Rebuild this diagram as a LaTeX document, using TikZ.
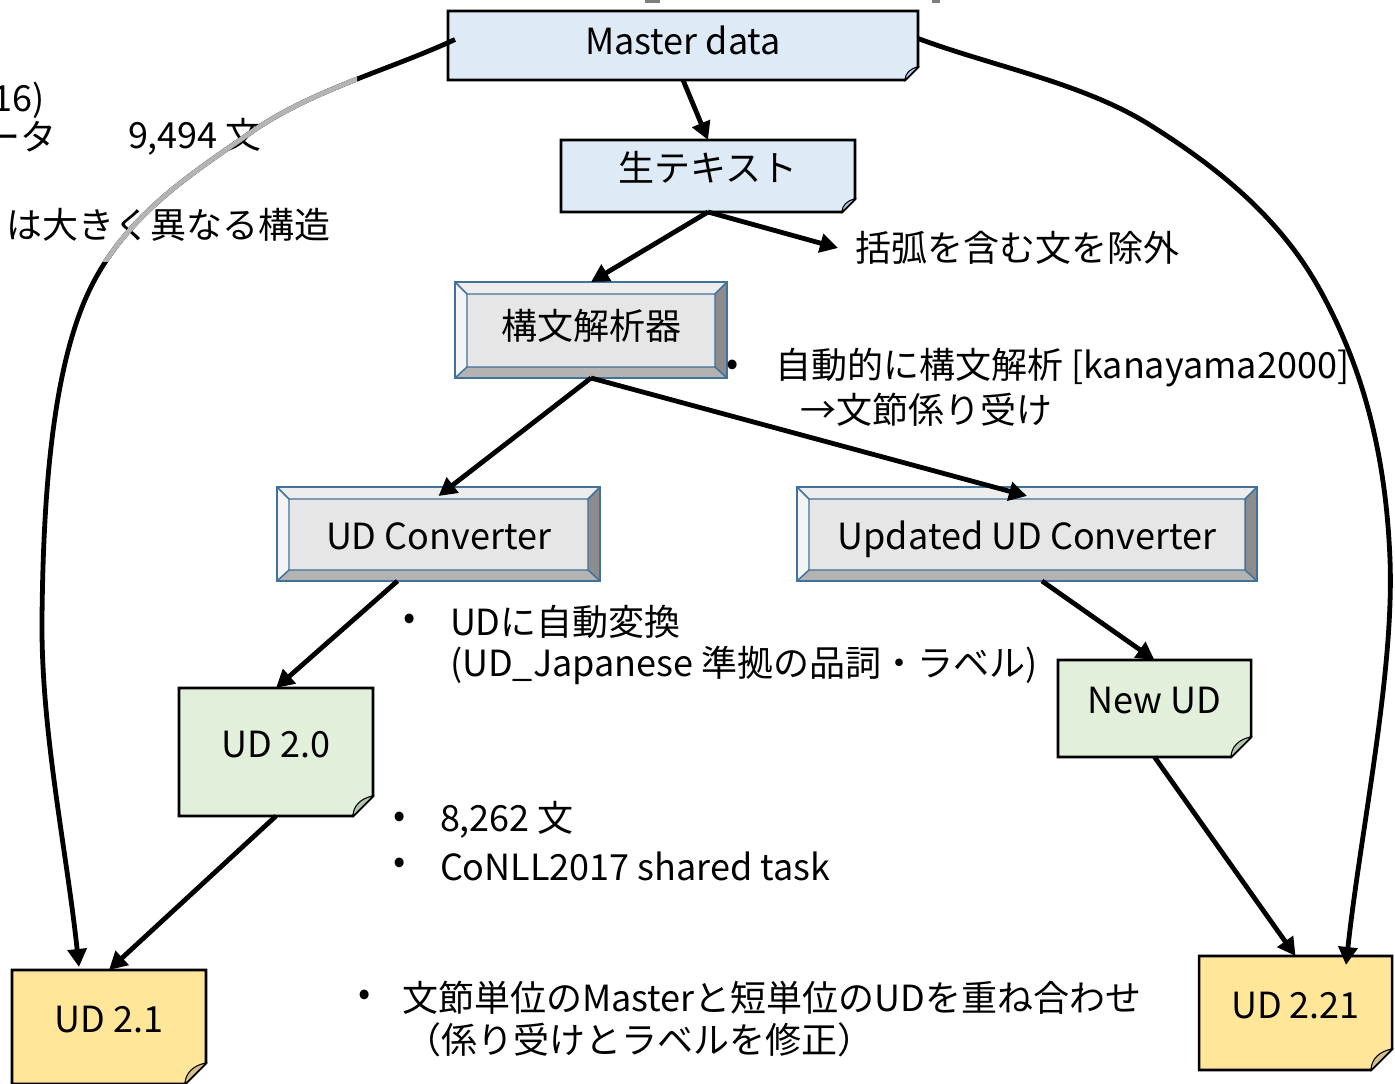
\documentclass[tikz,border=0pt]{standalone}
\usepackage{fontspec}
\setmainfont{Noto Sans CJK JP}
\usetikzlibrary{arrows.meta,calc,backgrounds}
\definecolor{noteblue}{HTML}{DEEBF7}
\definecolor{notegreen}{HTML}{E2EFDA}
\definecolor{noteyellow}{HTML}{FFE699}
\definecolor{foldblue}{HTML}{B4C7E7}
\definecolor{foldgreen}{HTML}{B5C4AC}
\definecolor{foldyellow}{HTML}{D6C08A}
\definecolor{bevblue}{HTML}{41719C}
\definecolor{bevtop}{HTML}{EDEDED}
\definecolor{bevleft}{HTML}{F4F4F4}
\definecolor{bevright}{HTML}{8C8C8C}
\definecolor{bevbottom}{HTML}{B3B3B3}
\definecolor{bevface}{HTML}{E6E6E6}
\definecolor{curvegrey}{HTML}{B4B4B4}
\definecolor{markgrey}{HTML}{7F7F7F}
\newcommand\notebg[4]{%
  \filldraw[fill=#2,draw=black,line width=1.9pt,line join=miter]
    (#1.north west) -- (#1.north east) -- ($(#1.south east)+(0,-#4)$)
    -- ($(#1.south east)+(-#4,0)$) -- (#1.south west) -- cycle;
  \filldraw[fill=#3,draw=black,line width=0.8pt]
    ($(#1.south east)+(0,-#4)$) .. controls ($(#1.south east)+(-0.6*#4,-0.9*#4)$)
    and ($(#1.south east)+(-#4,-0.5*#4)$) .. ($(#1.south east)+(-#4,0)$) -- cycle;}
\tikzset{
  every node/.style={font=\fontsize{27}{33}\selectfont, inner sep=0pt, outer sep=0pt},
  sz/.style 2 args={minimum width=#1*0.75pt, minimum height=#2*0.75pt},
  notetext/.style={text height=20pt, text depth=12pt},
  uptext/.style={text height=20pt, text depth=6pt},
  lowtext/.style={text height=23pt, text depth=0pt},
  conn/.style={line width=3.6pt, -{Triangle[length=13.5pt,width=14pt]}},
  bevel/.style={draw=bevblue, line width=1.1pt, fill=bevface,
    path picture={
      \path (path picture bounding box.north west) coordinate (pnw)
            (path picture bounding box.north east) coordinate (pne)
            (path picture bounding box.south west) coordinate (psw)
            (path picture bounding box.south east) coordinate (pse);
      \path ($(pnw)+(12,12)$) coordinate (qnw) ($(pne)+(-12,12)$) coordinate (qne)
            ($(psw)+(12,-11)$) coordinate (qsw) ($(pse)+(-12,-11)$) coordinate (qse);
      \fill[bevtop] (pnw)--(pne)--(qne)--(qnw)--cycle;
      \fill[bevleft] (pnw)--(qnw)--(qsw)--(psw)--cycle;
      \fill[bevright] (pne)--(pse)--(qse)--(qne)--cycle;
      \fill[bevbottom] (psw)--(pse)--(qse)--(qsw)--cycle;
      \draw[bevblue,line width=1.1pt] (qnw) rectangle (qse)
        (pnw)--(qnw) (pne)--(qne) (psw)--(qsw) (pse)--(qse);
    }},
  lbl/.style={anchor=west}
}
\begin{document}
\begin{tikzpicture}[x=0.75pt,y=-0.75pt]
\useasboundingbox (0,0) rectangle (1395,1084);
% boxes
\node[sz={470}{69}, uptext] (md) at (683,45.5) {Master data};
\node[sz={294}{72}, notetext] (raw) at (708,176) {生テキスト};
\node[bevel, sz={272}{96}, uptext] (parser) at (591,330) {構文解析器};
\node[bevel, sz={323}{94}, lowtext] (udc) at (438.5,534) {UD Converter};
\node[bevel, sz={460}{94}, lowtext] (uudc) at (1027,534) {Updated UD Converter};
\node[notetext, sz={194}{128}] (ud20) at (276,752) {UD 2.0};
\node[notetext, sz={193}{97}] (newud) at (1154.5,708.5) {New UD};
\node[notetext, sz={194}{114}] (ud21) at (109,1027) {UD 2.1};
\node[notetext, sz={193}{114}] (ud221) at (1295.5,1013) {UD 2.21};
\begin{pgfonlayer}{background}
  \notebg{md}{noteblue}{foldblue}{13}
  \notebg{raw}{noteblue}{foldblue}{13}
  \notebg{ud20}{notegreen}{foldgreen}{20}
  \notebg{newud}{notegreen}{foldgreen}{20}
  \notebg{ud21}{noteyellow}{foldyellow}{21}
  \notebg{ud221}{noteyellow}{foldyellow}{21}
\end{pgfonlayer}
% texts
\node[anchor=east] (t16) at (45,100) {16)};
\node[anchor=east] (tdata) at (57,137) {ータ};
\node[lbl] (t9494) at (128,137) {9,494 文};
\node[anchor=east] (tstruct) at (331,225) {は大きく異なる構造};
\node[lbl, inner xsep=13pt] (excl) at (838,248) {括弧を含む文を除外};
\node (b1) at (733,368) {•};
\node[lbl] (t1a) at (775,368) {自動的に構文解析 [kanayama2000]};
\node[lbl] (t1b) at (800,410) {→文節係り受け};
\node (b2) at (410,622) {•};
\node[lbl] (t2a) at (450,622) {UDに自動変換};
\node[lbl] (t2b) at (450,665) {(UD\_Japanese 準拠の品詞・ラベル)};
\node (b3) at (400,820) {•};
\node[lbl] (t3a) at (440,820) {8,262 文};
\node (b4) at (400,866) {•};
\node[lbl] (t3b) at (440,866) {CoNLL2017 shared task};
\node (b5) at (365,998) {•};
\node[lbl] (t4a) at (402,998) {文節単位のMasterと短単位のUDを重ね合わせ};
\node[lbl] (t4b) at (405,1040) {（係り受けとラベルを修正）};
% top marks
\fill[markgrey] (645,0) rectangle (660,3);
\fill[markgrey] (932,0) rectangle (940,3);
% connectors
\draw[conn] (md.south) -- (raw.north);
\draw[conn] (raw.south) -- (parser.north);
\draw[conn] (raw.south) -- (excl.west);
\draw[conn] (parser.south) -- ($(udc.north)+(0,9)$);
\draw[conn] (parser.south) -- ($(uudc.north)+(0,9)$);
\draw[conn] ($(udc.south)+(-41,0)$) -- (ud20.north);
\draw[conn] ($(uudc.south)+(15,0)$) -- (newud.north);
\draw[conn] (ud20.south) -- (ud21.north);
\draw[conn] (newud.south) -- (ud221.north);
\def\leftcurve{($(md.west)+(7,-6)$) .. controls (387,71) and (311.7,89.7) .. (250,133) .. controls (188.3,176.3) and (119.7,218.8) .. (85,300) .. controls (50.3,381.2) and (43,508.8) .. (42,620) .. controls (41,731) and (66.7,851) .. ($(ud21.north west)+(67,-3)$)}
\draw[conn] \leftcurve;
\begin{scope}
  \clip (0,0) rectangle (357,262);
  \draw[curvegrey, line width=3.6pt] \leftcurve;
\end{scope}
\draw[conn] ($(md.east)+(0,-7)$) .. controls (995,67) and (1083,83) .. (1150,125) .. controls (1217,167) and (1280,217.5) .. (1320,290) .. controls (1360,362.5) and (1385.7,447.5) .. (1390,560) .. controls (1394.3,672.5) and (1360.7,830) .. ($(ud221.north east)+(-46,9)$);
\end{tikzpicture}
\end{document}
